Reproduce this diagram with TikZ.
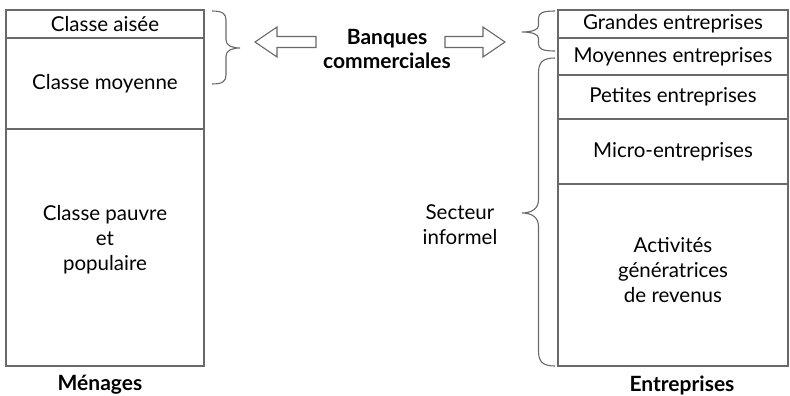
\documentclass[tikz,border=0pt]{standalone}
\usepackage{fontspec}
\setmainfont{Lato}
\usetikzlibrary{calc}
\definecolor{rulegray}{RGB}{105,105,105}

% curly brace: #1 x of the ends, #2 top y, #3 bottom y, #4 tip y,
% #5 signed depth (positive points right), #6 length of the end curls
\newcommand\curlybrace[6]{%
  \draw[bracestyle]
    (#1,#2) .. controls ({#1+0.38*(#5)},#2) and ({#1+0.5*(#5)},{#2+0.3*(#6)}) .. ({#1+0.5*(#5)},{#2+#6})
    -- ({#1+0.5*(#5)},{#4-0.9*(#6)}) .. controls ({#1+0.5*(#5)},{#4-0.3*(#6)}) and ({#1+0.7*(#5)},#4) .. ({#1+(#5)},#4)
    .. controls ({#1+0.7*(#5)},#4) and ({#1+0.5*(#5)},{#4+0.3*(#6)}) .. ({#1+0.5*(#5)},{#4+0.9*(#6)})
    -- ({#1+0.5*(#5)},{#3-(#6)}) .. controls ({#1+0.5*(#5)},{#3-0.3*(#6)}) and ({#1+0.38*(#5)},#3) .. (#1,#3);}

\tikzset{
  txt/.style={font=\fontsize{20.5}{25}\selectfont, align=center, inner sep=0pt},
  boldtxt/.style={font=\fontsize{21}{24}\selectfont\bfseries, align=center, inner sep=0pt},
  cell/.style={draw=rulegray, line width=1.2pt, txt, minimum width=#1},
  leftcell/.style={cell=198pt},
  rightcell/.style={cell=230pt},
  bracestyle/.style={draw=rulegray, line width=1.1pt},
  hollow/.style={draw=rulegray, line width=1.1pt, fill=white, line join=miter}
}

\begin{document}
\begin{tikzpicture}[x=1pt,y=-1pt]
\path[use as bounding box] (0,0) rectangle (790,396);

% households column
\node[leftcell, minimum height=28pt]  (aisee)   at (105,24)    {Classe aisée};
\node[leftcell, minimum height=91pt]  (moyenne) at (105,83.5)  {Classe moyenne};
\node[leftcell, minimum height=237pt] (pauvre)  at (105,247.5) {};
\node[txt] (pauvretxt) at (105,240) {Classe pauvre\\et\\populaire};
\node[boldtxt] (menages) at (100,385) {Ménages};

% firms column
\node[rightcell, minimum height=28pt]  (grandes)   at (673,24)    {Grandes entreprises};
\node[rightcell, minimum height=37pt]  (moyennes)  at (673,56.5)  {Moyennes entreprises};
\node[rightcell, minimum height=44pt]  (petites)   at (673,97)    {Petites entreprises};
\node[rightcell, minimum height=65pt]  (micro)     at (673,151.5) {Micro-entreprises};
\node[rightcell, minimum height=182pt] (activites) at (673,275)   {};
\node[txt] (activitestxt) at (673,270) {Activités\\génératrices\\de revenus};
\node[boldtxt] (entreprises) at (682,385) {Entreprises};

% banks in the middle
\node[boldtxt] (banques) at (387,48.5) {Banques\\commerciales};

% secteur informel label
\node[txt] (informel) at (460,225) {Secteur\\informel};

% braces
\curlybrace{212}{11}{84}{48}{28}{9}
\curlybrace{555}{11}{51}{32}{-33}{7}
\curlybrace{555}{58}{366}{213}{-33}{15}

% hollow arrows from the banks towards the two groups
\coordinate (ltip) at (255,42);
\coordinate (rtip) at (505,42);
\draw[hollow] (ltip) -- ++(22,-15) -- ++(0,9.5) -- ++(39,0) -- ++(0,11) -- ++(-39,0) -- ++(0,9.5) -- cycle;
\draw[hollow] (rtip) -- ++(-22,-15) -- ++(0,9.5) -- ++(-38,0) -- ++(0,11) -- ++(38,0) -- ++(0,9.5) -- cycle;
\end{tikzpicture}
\end{document}
